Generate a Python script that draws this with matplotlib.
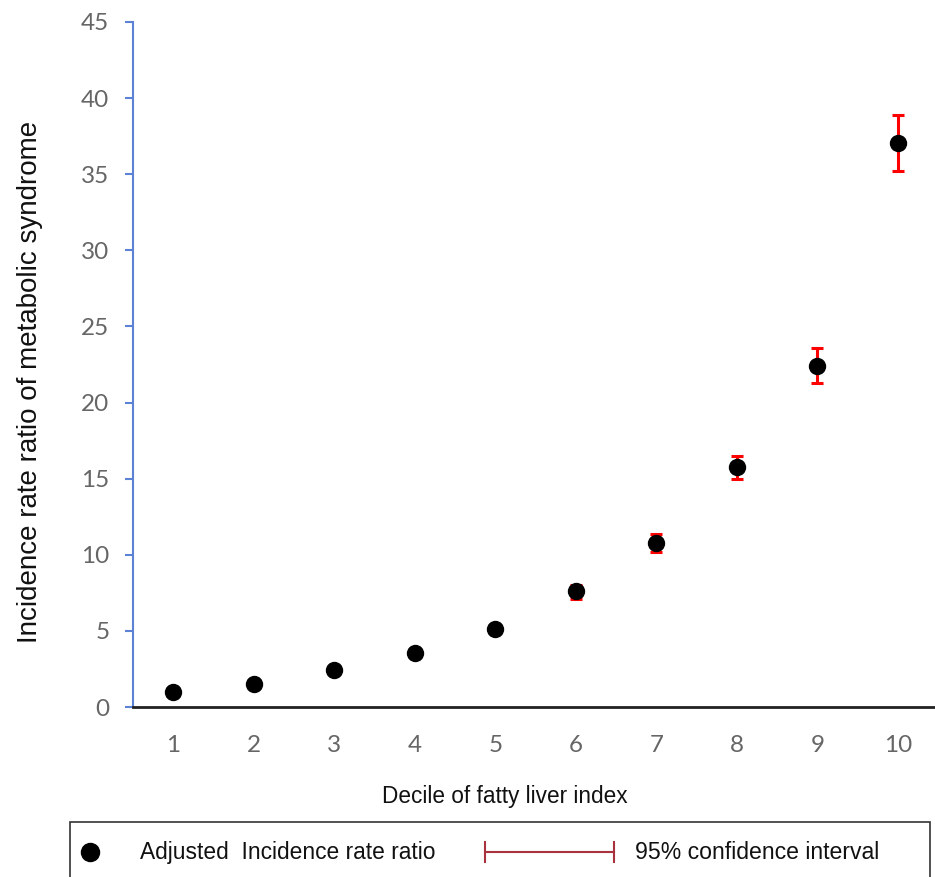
import matplotlib

matplotlib.use("Agg")
import matplotlib.pyplot as plt
from matplotlib.lines import Line2D
from matplotlib.patches import Rectangle

# Adjusted incidence rate ratio of metabolic syndrome by FLI decile
deciles = [1, 2, 3, 4, 5, 6, 7, 8, 9, 10]
irr = [1.0, 1.5, 2.4, 3.55, 5.1, 7.6, 10.8, 15.75, 22.4, 37.05]
ci_low = [1.0, 1.45, 2.3, 3.4, 4.85, 7.1, 10.2, 15.0, 21.3, 35.2]
ci_high = [1.0, 1.55, 2.5, 3.7, 5.35, 8.0, 11.35, 16.5, 23.6, 38.9]
y_ticks = [0, 5, 10, 15, 20, 25, 30, 35, 40, 45]

BLUE = "#5b82d4"
GREY = "#666666"
LABEL_FONT = ["Liberation Sans", "DejaVu Sans"]
TICK_FONT = ["Lato", "DejaVu Sans"]

fig = plt.figure(figsize=(9.35, 8.77), dpi=100)
ax = fig.add_axes([0.1422, 0.1938, 0.857, 0.7812])

yerr = [[v - lo for v, lo in zip(irr, ci_low)], [hi - v for v, hi in zip(irr, ci_high)]]
ax.errorbar(deciles, irr, yerr=yerr, fmt="none", ecolor="#ff0000",
            elinewidth=2.2, capsize=4.3, capthick=2.2, zorder=2)
ax.plot(deciles, irr, "o", color="black", markersize=11.5, zorder=3)

ax.set_xlim(0.5, 10.45)
ax.set_ylim(0, 45)
ax.set_xticks(deciles)
ax.set_yticks(y_ticks)
for lab in ax.get_xticklabels() + ax.get_yticklabels():
    lab.set_family(TICK_FONT)
    lab.set_fontsize(17.5)
    lab.set_color(GREY)
ax.tick_params(axis="x", length=0, pad=20)
ax.tick_params(axis="y", length=6, width=1.5, color=BLUE, pad=11)

ax.spines[["top", "right"]].set_visible(False)
ax.spines["left"].set_color(BLUE)
ax.spines["left"].set_linewidth(1.5)
ax.spines["bottom"].set_color("#222222")
ax.spines["bottom"].set_linewidth(2.0)
ax.spines["bottom"].set_zorder(4)

fig.text(0.032, 0.564, "Incidence rate ratio of metabolic syndrome",
         rotation=90, ha="center", va="center", fontsize=20,
         family=LABEL_FONT, color="#111111")
fig.text(0.54, 0.092, "Decile of fatty liver index", ha="center",
         va="center", fontsize=16.3, family=LABEL_FONT, color="#111111")

# legend box along the bottom edge
fig.add_artist(Rectangle((0.075, -0.05), 0.92, 0.113, transform=fig.transFigure,
                         facecolor="none", edgecolor="#333333", linewidth=1.2))
fig.add_artist(Line2D([0.0963], [0.0285], transform=fig.transFigure, marker="o",
                      color="black", markersize=13, linestyle="none"))
fig.text(0.150, 0.0285, "Adjusted  Incidence rate ratio", va="center",
         fontsize=16.4, family=LABEL_FONT, color="#111111")
fig.add_artist(Line2D([0.519, 0.657], [0.0285, 0.0285], transform=fig.transFigure,
                      color="#a8323e", linewidth=1.5))
for xc in (0.519, 0.657):
    fig.add_artist(Line2D([xc, xc], [0.0175, 0.0395], transform=fig.transFigure,
                          color="#a8323e", linewidth=1.5))
fig.text(0.679, 0.0285, "95% confidence interval", va="center",
         fontsize=16.6, family=LABEL_FONT, color="#111111")

fig.savefig("out.png", dpi=100)
